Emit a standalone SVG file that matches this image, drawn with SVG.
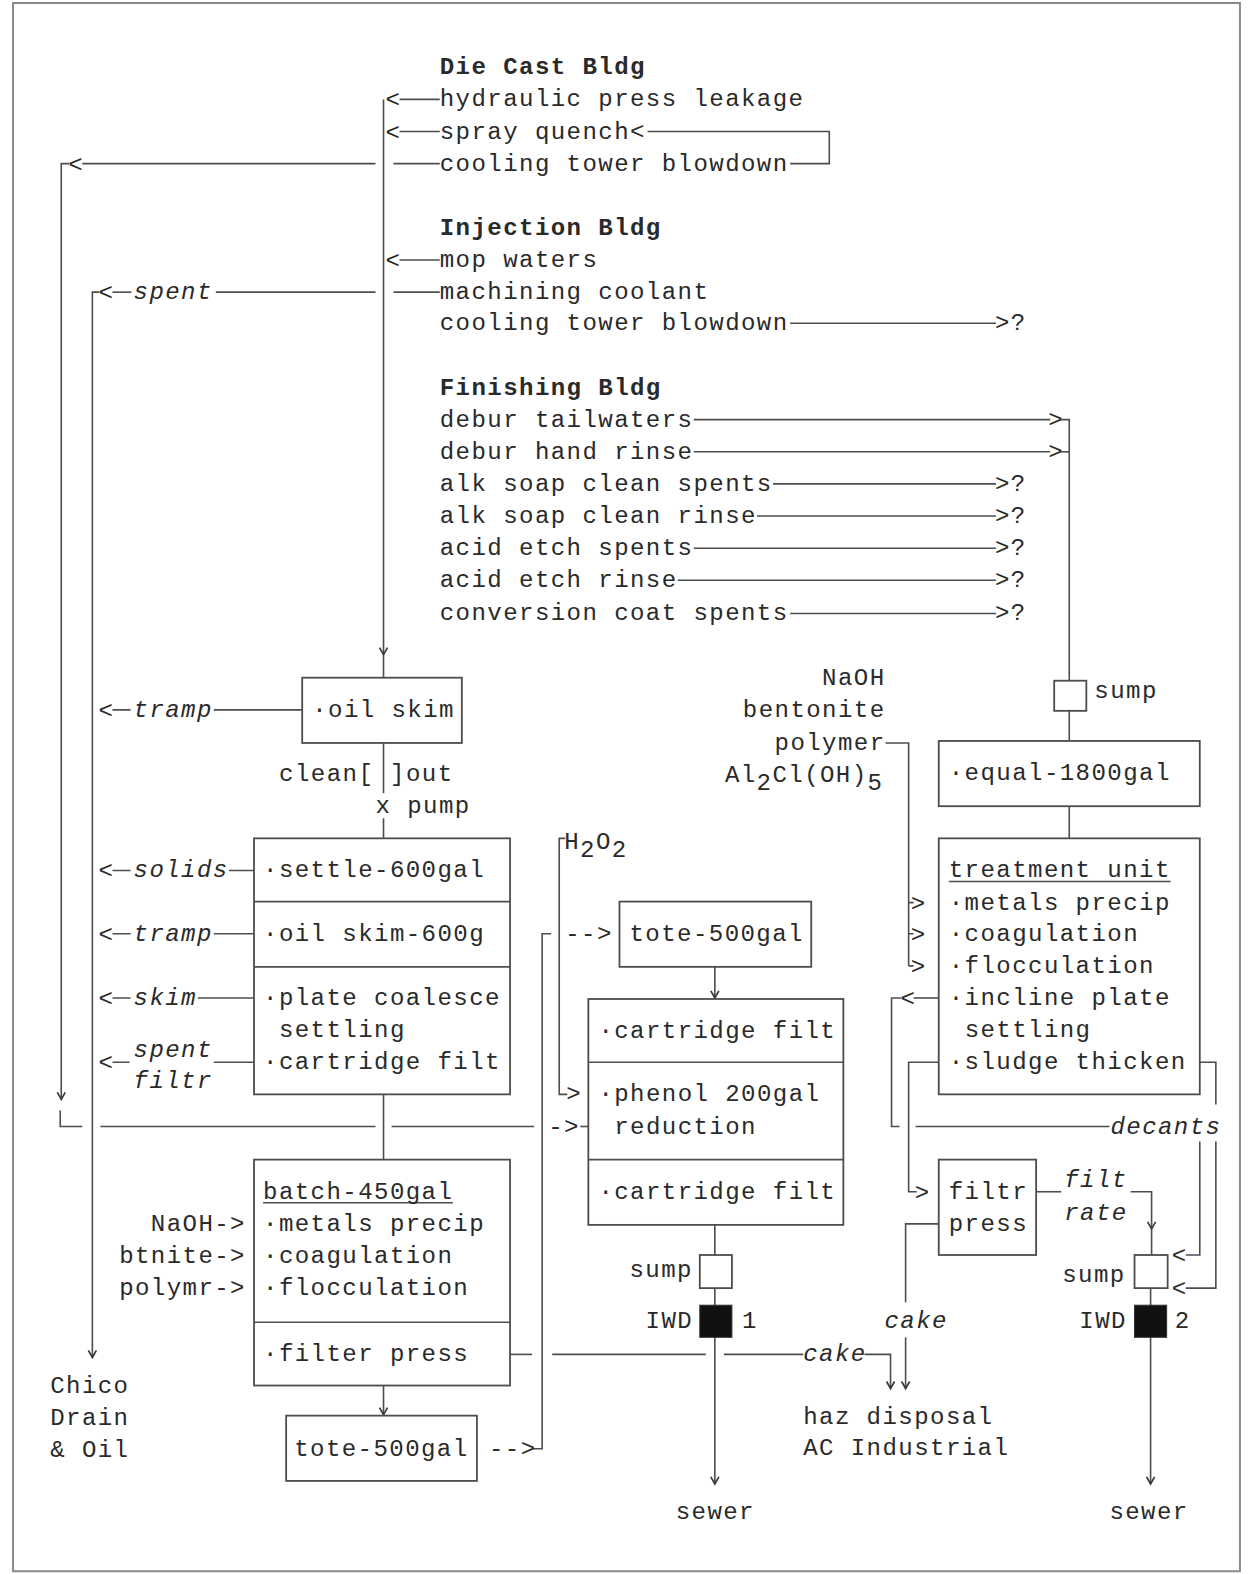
<svg xmlns="http://www.w3.org/2000/svg" width="1248" height="1574" viewBox="0 0 1248 1574">
<style>
.t{font-family:"Liberation Mono","DejaVu Sans Mono",monospace;font-size:24px;letter-spacing:1.4px;fill:#2a2a2a}
.b{font-weight:bold}
.i{font-style:italic}
.e{text-anchor:end}
.ln{stroke:#4d4d4d;stroke-width:1.6;fill:none}
.ah{stroke:#3a3a3a;stroke-width:1.7;fill:none}
.bx{fill:#fff;stroke:#4d4d4d;stroke-width:1.8}
.blk{fill:#111;stroke:#333;stroke-width:1}
</style>
<defs>
<path id="dn" class="ah" d="M-4,-7 L0,0 L4,-7"/>
</defs>
<rect width="1248" height="1574" fill="#fff"/>
<g transform="scale(1.004)">
<rect x="13" y="3" width="1222" height="1562" fill="none" stroke="#8a8a8a" stroke-width="2"/>

<g id="connectors" class="ln">
<path d="M382,99 V675"/>
<path d="M398,99 H438"/>
<path d="M398,131 H438"/>
<path d="M645,131 H826 V163 H787"/>
<path d="M392,163 H438"/>
<path d="M82,163 H374"/>
<path d="M69,163 H61 V1095"/>
<path d="M398,259 H438"/>
<path d="M392,291 H438"/>
<path d="M215,291 H374"/>
<path d="M112,291 H131"/>
<path d="M99,291 H92 V1352"/>
<path d="M787,322 H992"/>
<path d="M691,418 H1046"/>
<path d="M1057,418 H1065 V678"/>
<path d="M691,450 H1046"/>
<path d="M1057,450 H1065"/>
<path d="M770,482 H992"/>
<path d="M754,514 H992"/>
<path d="M691,546 H992"/>
<path d="M675,578 H992"/>
<path d="M787,611 H992"/>
<path d="M1065,708 V738"/>
<path d="M1065,803 V835"/>
<path d="M882,740 H905 V962"/>
<path d="M905,899 H910 M905,930 H910 M905,962 H910"/>
<path d="M935,994 H910"/>
<path d="M898,994 H888 V1122 H896"/>
<path d="M912,1122 H1105"/>
<path d="M935,1058 H905 V1187 H913"/>
<path d="M1195,1058 H1211 V1100"/>
<path d="M1211,1137 V1283 H1181"/>
<path d="M1195,1137 V1250 H1181"/>
<path d="M1032,1187 H1057"/>
<path d="M1126,1187 H1147 V1250"/>
<path d="M1146,1283 V1478"/>
<path d="M935,1219 H902 V1297"/>
<path d="M902,1332 V1383"/>
<path d="M382,740 V790"/>
<path d="M382,815 V835"/>
<path d="M382,1090 V1155"/>
<path d="M382,1380 V1410"/>
<path d="M112,707 H130 M213,707 H301"/>
<path d="M112,867 H130 M228,867 H253"/>
<path d="M112,930 H130 M213,930 H253"/>
<path d="M112,994 H130 M197,994 H253"/>
<path d="M112,1058 H129 M213,1058 H253"/>
<path d="M60,1106 V1122 H82"/>
<path d="M100,1122 H374"/>
<path d="M390,1122 H532"/>
<path d="M578,1122 H586"/>
<path d="M549,930 H540 V1443 H531"/>
<path d="M563,835 H557 V1090 H565"/>
<path d="M712,963 V995"/>
<path d="M712,1220 V1250"/>
<path d="M712,1283 V1478"/>
<path d="M508,1349 H530"/>
<path d="M550,1349 H703"/>
<path d="M721,1349 H800"/>
<path d="M861,1349 H887 V1383"/>
<use href="#dn" x="382" y="652"/>
<use href="#dn" x="61" y="1095"/>
<use href="#dn" x="92" y="1352"/>
<use href="#dn" x="382" y="1409"/>
<use href="#dn" x="712" y="994"/>
<use href="#dn" x="712" y="1478"/>
<use href="#dn" x="1147" y="1224"/>
<use href="#dn" x="1146" y="1478"/>
<use href="#dn" x="887" y="1383"/>
<use href="#dn" x="902" y="1383"/>
</g>

<g id="connector-labels" class="t">
<text x="384" y="107">&lt;</text>
<text x="384" y="139">&lt;</text>
<text x="384" y="267">&lt;</text>
<text x="68" y="171">&lt;</text>
<text x="98" y="299">&lt;</text>
<text x="133" y="298" class="i">spent</text>
<text x="991" y="329">&gt;?</text>
<text x="1044" y="425">&gt;</text>
<text x="1044" y="457">&gt;</text>
<text x="991" y="489">&gt;?</text>
<text x="991" y="521">&gt;?</text>
<text x="991" y="553">&gt;?</text>
<text x="991" y="585">&gt;?</text>
<text x="991" y="618">&gt;?</text>
<text x="907" y="907">&gt;</text>
<text x="907" y="938">&gt;</text>
<text x="907" y="970">&gt;</text>
<text x="897" y="1002">&lt;</text>
<text x="1106" y="1129" class="i">decants</text>
<text x="911" y="1195">&gt;</text>
<text x="1167" y="1258">&lt;</text>
<text x="1167" y="1291">&lt;</text>
<text x="1060" y="1182" class="i">filt</text>
<text x="1060" y="1215" class="i">rate</text>
<text x="881" y="1323" class="i">cake</text>
<text x="800" y="1356" class="i">cake</text>
<text x="98" y="715">&lt;</text>
<text x="133" y="714" class="i">tramp</text>
<text x="98" y="875">&lt;</text>
<text x="133" y="874" class="i">solids</text>
<text x="98" y="938">&lt;</text>
<text x="133" y="937" class="i">tramp</text>
<text x="98" y="1002">&lt;</text>
<text x="133" y="1001" class="i">skim</text>
<text x="98" y="1066">&lt;</text>
<text x="133" y="1053" class="i">spent</text>
<text x="133" y="1084" class="i">filtr</text>
<text x="563" y="937">--&gt;</text>
<text x="487" y="1450">--&gt;</text>
<text x="546" y="1129">-&gt;</text>
<text x="564" y="1097">&gt;</text>
</g>

<g id="sources" class="t">
<text x="438" y="74" class="b">Die Cast Bldg</text>
<text x="438" y="106">hydraulic press leakage</text>
<text x="438" y="138">spray quench&lt;</text>
<text x="438" y="170">cooling tower blowdown</text>
<text x="438" y="234" class="b">Injection Bldg</text>
<text x="438" y="266">mop waters</text>
<text x="438" y="298">machining coolant</text>
<text x="438" y="329">cooling tower blowdown</text>
<text x="438" y="393" class="b">Finishing Bldg</text>
<text x="438" y="425">debur tailwaters</text>
<text x="438" y="457">debur hand rinse</text>
<text x="438" y="489">alk soap clean spents</text>
<text x="438" y="521">alk soap clean rinse</text>
<text x="438" y="553">acid etch spents</text>
<text x="438" y="585">acid etch rinse</text>
<text x="438" y="618">conversion coat spents</text>
</g>

<g id="oil-skim">
<rect class="bx" x="301" y="675" width="159" height="65"/>
<text class="t" x="311" y="714">·oil skim</text>
</g>

<g id="pump" class="t">
<text x="278" y="778" xml:space="preserve">clean[ ]out</text>
<text x="374" y="810" xml:space="preserve">x pump</text>
</g>

<g id="settle-unit">
<rect class="bx" x="253" y="835" width="255" height="255"/>
<path class="ln" d="M253,898 H508 M253,963 H508"/>
<g class="t">
<text x="262" y="874">·settle-600gal</text>
<text x="262" y="937">·oil skim-600g</text>
<text x="262" y="1001">·plate coalesce</text>
<text x="277.8" y="1033">settling</text>
<text x="262" y="1065">·cartridge filt</text>
</g>
</g>

<g id="batch">
<rect class="bx" x="253" y="1155" width="255" height="225"/>
<path class="ln" d="M253,1317 H508"/>
<path class="ln" d="M262,1198 H451"/>
<g class="t">
<text x="262" y="1194">batch-450gal</text>
<text x="262" y="1226">·metals precip</text>
<text x="262" y="1258">·coagulation</text>
<text x="262" y="1290">·flocculation</text>
<text x="262" y="1356">·filter press</text>
</g>
</g>

<g id="batch-chemicals" class="t">
<text x="245" y="1226" class="e">NaOH-&gt;</text>
<text x="245" y="1258" class="e">btnite-&gt;</text>
<text x="245" y="1290" class="e">polymr-&gt;</text>
</g>

<g id="tote-bottom">
<rect class="bx" x="285" y="1410" width="190" height="65"/>
<text class="t" x="293" y="1450">tote-500gal</text>
</g>

<g id="chico" class="t">
<text x="50" y="1387">Chico</text>
<text x="50" y="1419">Drain</text>
<text x="50" y="1451">&amp; Oil</text>
</g>

<g id="h2o2" class="t">
<text x="562" y="846">H<tspan dy="8">2</tspan><tspan dy="-8">O</tspan><tspan dy="8">2</tspan></text>
</g>

<g id="tote-top">
<rect class="bx" x="617" y="898" width="191" height="65"/>
<text class="t" x="627" y="937">tote-500gal</text>
</g>

<g id="phenol-unit">
<rect class="bx" x="586" y="995" width="254" height="225"/>
<path class="ln" d="M586,1058 H840 M586,1155 H840"/>
<g class="t">
<text x="596" y="1034">·cartridge filt</text>
<text x="596" y="1097">·phenol 200gal</text>
<text x="611.8" y="1129">reduction</text>
<text x="596" y="1194">·cartridge filt</text>
</g>
</g>

<g id="sump-1">
<rect class="bx" x="697" y="1250" width="32" height="33"/>
<text class="t" x="627" y="1272">sump</text>
</g>

<g id="iwd-1">
<rect class="blk" x="697" y="1300" width="32" height="32"/>
<text class="t" x="643" y="1323">IWD</text>
<text class="t" x="739" y="1323">1</text>
</g>

<g id="sewer-1">
<text class="t" x="673" y="1513">sewer</text>
</g>

<g id="haz-disposal" class="t">
<text x="800" y="1418">haz disposal</text>
<text x="800" y="1449">AC Industrial</text>
</g>

<g id="treatment-chemicals" class="t">
<text x="882" y="682" class="e">NaOH</text>
<text x="882" y="714" class="e">bentonite</text>
<text x="882" y="747" class="e">polymer</text>
<text x="722" y="779">Al<tspan dy="8">2</tspan><tspan dy="-8">Cl(OH)</tspan><tspan dy="8">5</tspan></text>
</g>

<g id="sump-top">
<rect class="bx" x="1050" y="678" width="32" height="30"/>
<text class="t" x="1090" y="695">sump</text>
</g>

<g id="equal">
<rect class="bx" x="935" y="738" width="260" height="65"/>
<text class="t" x="945" y="777">·equal-1800gal</text>
</g>

<g id="treatment-unit">
<rect class="bx" x="935" y="835" width="260" height="255"/>
<path class="ln" d="M945,878 H1166"/>
<g class="t">
<text x="945" y="874">treatment unit</text>
<text x="945" y="906">·metals precip</text>
<text x="945" y="937">·coagulation</text>
<text x="945" y="969">·flocculation</text>
<text x="945" y="1001">·incline plate</text>
<text x="960.8" y="1033">settling</text>
<text x="945" y="1065">·sludge thicken</text>
</g>
</g>

<g id="filtr-press">
<rect class="bx" x="935" y="1155" width="97" height="95"/>
<text class="t" x="945" y="1194">filtr</text>
<text class="t" x="945" y="1226">press</text>
</g>

<g id="sump-2">
<rect class="bx" x="1130" y="1250" width="33" height="33"/>
<text class="t" x="1058" y="1277">sump</text>
</g>

<g id="iwd-2">
<rect class="blk" x="1130" y="1300" width="32" height="32"/>
<text class="t" x="1075" y="1323">IWD</text>
<text class="t" x="1170" y="1323">2</text>
</g>

<g id="sewer-2">
<text class="t" x="1105" y="1513">sewer</text>
</g>
</g>
</svg>
